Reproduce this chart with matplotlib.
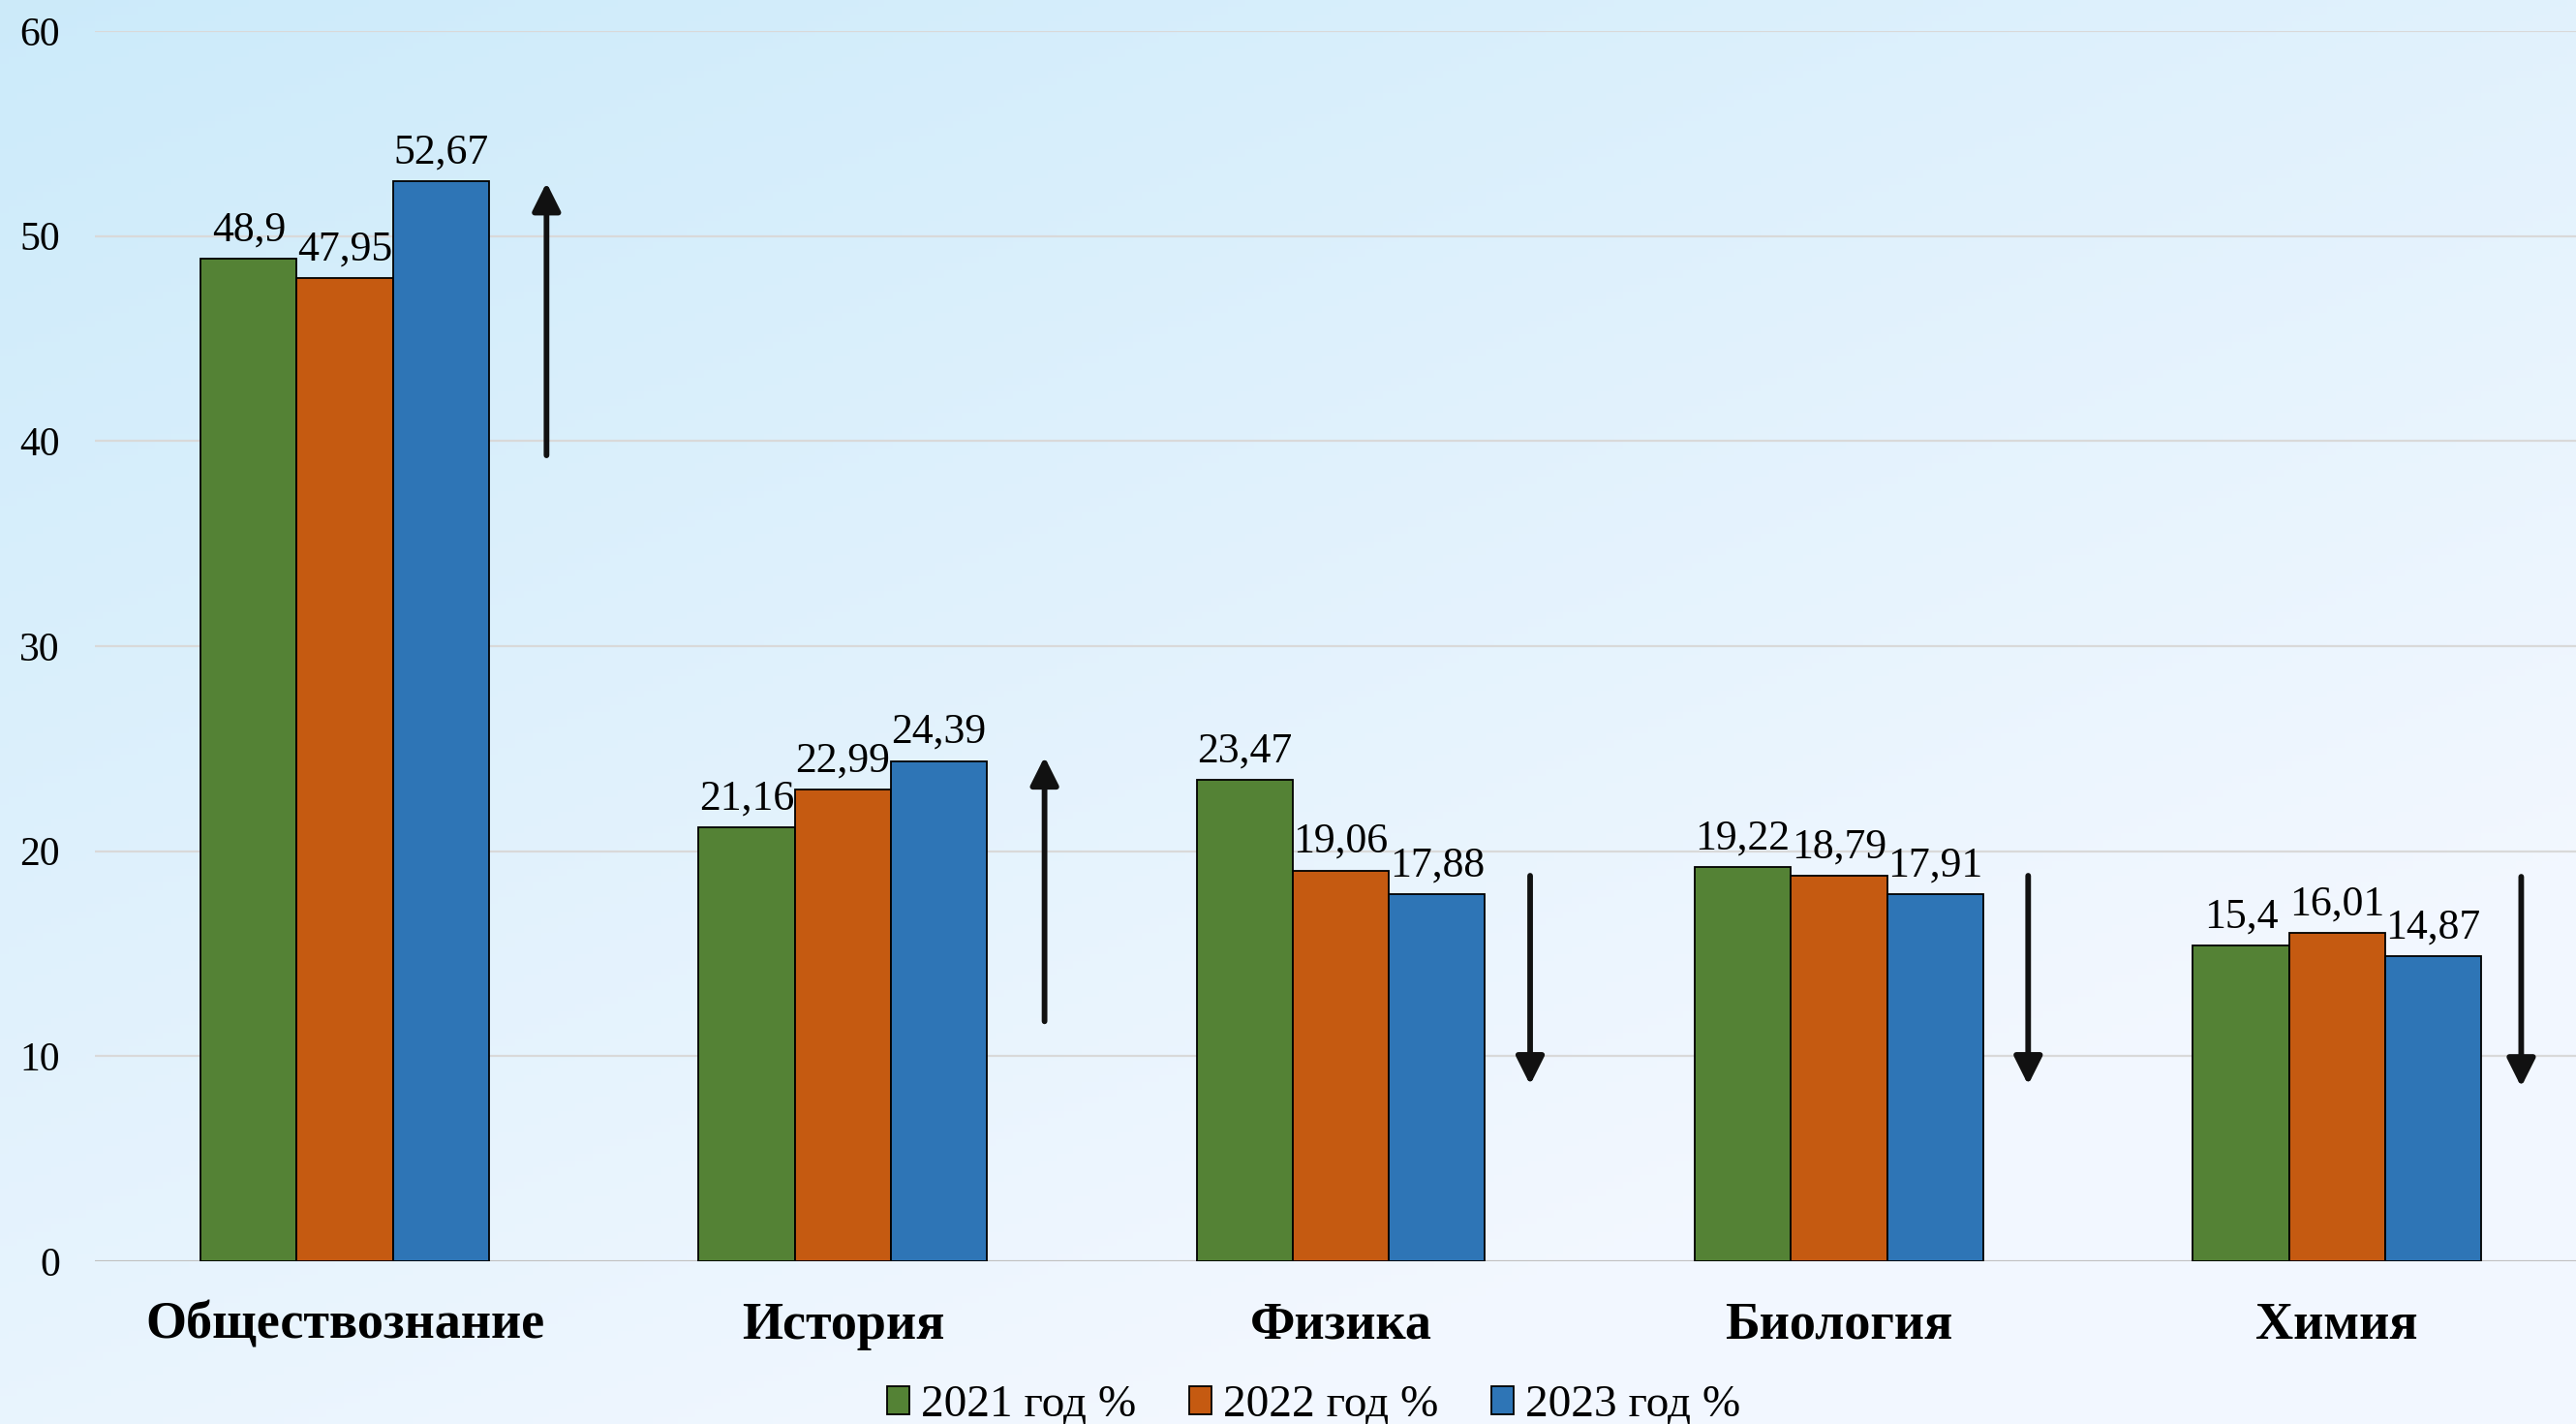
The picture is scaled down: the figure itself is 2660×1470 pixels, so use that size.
import numpy as np
import matplotlib.pyplot as plt

# Данные диаграммы
subjects = ['Обществознание', 'История', 'Физика', 'Биология', 'Химия']
years = ['2021 год %', '2022 год %', '2023 год %']
v2021 = [48.9, 21.16, 23.47, 19.22, 15.4]
v2022 = [47.95, 22.99, 19.06, 18.79, 16.01]
v2023 = [52.67, 24.39, 17.88, 17.91, 14.87]

# Стрелки тенденции (начало и конец по оси Y)
arrow_from = [39.3, 11.7, 18.8, 18.8, 18.75]
arrow_to = [52.6, 24.6, 8.6, 8.6, 8.5]
arrow_dx = [0.405, 0.405, 0.38, 0.38, 0.37]

colors = ['#548235', '#c55a11', '#2e75b6']

plt.rcParams['font.family'] = ['Liberation Serif', 'DejaVu Serif']

fig = plt.figure(figsize=(26.6, 14.7), dpi=100)

# фон: светло-голубой градиент
bg = fig.add_axes([0, 0, 1, 1], zorder=-10)
yy, xx = np.mgrid[0:1:200j, 0:1:300j]
t = np.clip(0.55 * xx + 0.75 * yy, 0, 1)
c0 = np.array([0.80, 0.92, 0.98])
c1 = np.array([0.95, 0.97, 1.0])
img = c0[None, None, :] * (1 - t[..., None]) + c1[None, None, :] * t[..., None]
bg.imshow(img, aspect='auto', extent=[0, 1, 0, 1], origin='upper')
bg.axis('off')

ax = fig.add_axes([0.0368, 0.1143, 0.9632, 0.864])
ax.set_facecolor('none')

x = np.arange(len(subjects))
w = 0.193
series = [v2021, v2022, v2023]
for i, (vals, col, lab) in enumerate(zip(series, colors, years)):
    bars = ax.bar(x + (i - 1) * w, vals, w, color=col, edgecolor='black',
                  linewidth=1.3, label=lab, zorder=3)
    ax.bar_label(bars, labels=[str(v).replace('.', ',') for v in vals],
                 padding=7, fontsize=31.5, zorder=4)

for i in range(len(subjects)):
    ax.annotate('', xy=(x[i] + arrow_dx[i], arrow_to[i]),
                xytext=(x[i] + arrow_dx[i], arrow_from[i]),
                arrowprops=dict(arrowstyle='-|>', lw=4.2, color='#111111',
                                mutation_scale=44, shrinkA=0, shrinkB=0))

ax.set_ylim(0, 60)
ax.set_xlim(-0.502, 4.48)
ax.set_yticks(range(0, 61, 10))
ax.grid(axis='y', color='#d9d9d9', linewidth=1.6, zorder=0)
ax.axhline(0, color='#c0c0c0', linewidth=2.2, zorder=2)
for s in ax.spines.values():
    s.set_visible(False)

ax.set_xticks(x)
ax.set_xticklabels(subjects, fontsize=39, fontweight='bold')
ax.tick_params(axis='x', length=0, pad=30)
ax.tick_params(axis='y', length=0, pad=26, labelsize=30)

fig.legend(loc='center', bbox_to_anchor=(0.51, 0.013), ncol=3, frameon=False,
           fontsize=34, handlelength=0.5, handleheight=0.55,
           handletextpad=0.25, columnspacing=1.15)

plt.savefig('out.png', dpi=100)
